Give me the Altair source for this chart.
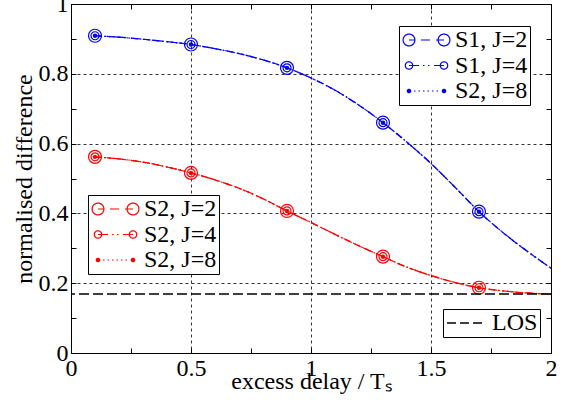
import math
import altair as alt
import pandas as pd

# ---------------- data ----------------
xs = [0.1, 0.2, 0.3, 0.4, 0.5, 0.6, 0.7, 0.8, 0.9, 1.0,
      1.1, 1.2, 1.3, 1.4, 1.5, 1.6, 1.7, 1.8, 1.9, 2.0]
s1_curve = [0.909, 0.905, 0.899, 0.892, 0.884, 0.872, 0.858, 0.840, 0.817, 0.788,
            0.753, 0.710, 0.660, 0.604, 0.543, 0.475, 0.405, 0.345, 0.292, 0.243]
s2_curve = [0.562, 0.556, 0.547, 0.533, 0.516, 0.496, 0.472, 0.442, 0.407, 0.374,
            0.340, 0.307, 0.276, 0.246, 0.222, 0.202, 0.187, 0.178, 0.172, 0.169]
marker_x = [0.1, 0.5, 0.9, 1.3, 1.7]
s1_markers = [0.909, 0.884, 0.817, 0.660, 0.405]
s2_markers = [0.562, 0.516, 0.407, 0.276, 0.187]
los_value = [0.169]
J_values = ["2", "4", "8"]
blue_labels = ["S1, J=2", "S1, J=4", "S2, J=8"]
red_labels = ["S2, J=2", "S2, J=4", "S2, J=8"]
los_labels = ["LOS"]
x_major = [0, 0.5, 1, 1.5, 2]
x_minor = [0, 0.25, 0.5, 0.75, 1, 1.25, 1.5, 1.75, 2]
y_major = [0, 0.2, 0.4, 0.6, 0.8, 1]
y_minor = [0, 0.1, 0.2, 0.3, 0.4, 0.5, 0.6, 0.7, 0.8, 0.9, 1]

BLUE = "#0000ff"
RED = "#ff0000"
FONT = "Liberation Serif"

rows = []
for series, curve in (("S1", s1_curve), ("S2", s2_curve)):
    for j in J_values:
        for x, y in zip(xs, curve):
            rows.append({"series": series, "J": j, "x": x, "y": y})
line_df = pd.DataFrame(rows)

mrows = []
for series, vals in (("S1", s1_markers), ("S2", s2_markers)):
    for x, y in zip(marker_x, vals):
        mrows.append({"series": series, "x": x, "y": y})
marker_df = pd.DataFrame(mrows)
los_df = pd.DataFrame({"y": los_value})

# ---------------- legend symbol paths (style only) ----------------
S = 8.0  # px per path unit for symbolSize 256


def _poly(pts):
    return "M" + " L".join(f"{x / S:.3f},{y / S:.3f}" for x, y in pts) + " Z"


def disc(cx, r, n=28):
    return _poly([(cx + r * math.cos(2 * math.pi * k / n), r * math.sin(2 * math.pi * k / n)) for k in range(n)])


def ring(cx, r, w=1.2, n=36):
    outer = [(cx + r * math.cos(2 * math.pi * k / n), r * math.sin(2 * math.pi * k / n)) for k in range(n)]
    ri = r - w
    inner = [(cx + ri * math.cos(-2 * math.pi * k / n), ri * math.sin(-2 * math.pi * k / n)) for k in range(n)]
    return _poly(outer) + " " + _poly(inner)


def seg(x0, x1, h=0.6):
    return _poly([(x0, -h), (x1, -h), (x1, h), (x0, h)])


C1, C2 = -4.0, 31.0
sym_j2 = " ".join([ring(C1, 6.5), ring(C2, 6.5), seg(C1, C1 + 6.5), seg(C1 + 12, C1 + 21), seg(C1 + 27, C2)])
sym_j4 = " ".join([ring(C1, 4.3), ring(C2, 4.3), seg(C1, C1 + 10), seg(C1 + 14, C1 + 15.5),
                   seg(C1 + 19, C1 + 20.5), seg(C1 + 25, C2)])
sym_j8 = " ".join([disc(C1, 2.3), disc(C2, 2.3)] + [seg(C1 + d, C1 + d + 1.5) for d in (5, 9.5, 14, 18.5, 23, 27.5)])
sym_los = " ".join([seg(-10, -1, 0.7), seg(3, 12, 0.7), seg(16, 25, 0.7)])
sym_paths = [sym_j2, sym_j4, sym_j8]

# ---------------- scales & axes ----------------
xscale = alt.Scale(domain=[0, 2], nice=False, zero=False)
yscale = alt.Scale(domain=[0, 1], nice=False, zero=False)
color_scale = alt.Scale(domain=["S1", "S2"], range=[BLUE, RED])

x_main = alt.Axis(orient="bottom", values=x_major, format="~g", tickSize=0, labelPadding=3,
                  labelFlush=False, labelOverlap=False, grid=True, gridDash=[3, 3], gridColor="black",
                  gridWidth=0.8, gridOpacity=1, domain=False, title="excess delay / Tₛ",
                  titleBaseline="alphabetic", titleY=35)
y_main = alt.Axis(orient="left", values=y_major, format="~g", tickSize=0, labelPadding=3,
                  labelFlush=False, labelOverlap=False, grid=True, gridDash=[3, 3], gridColor="black",
                  gridWidth=0.8, gridOpacity=1, domain=False, title="normalised difference",
                  titleBaseline="alphabetic", titleX=-40)


def tick_axis(orient, values):
    return alt.Axis(orient=orient, offset=-5, values=values, labels=False, grid=False, domain=False,
                    ticks=True, tickSize=5, tickColor="black", tickWidth=1, title=None)


# ---------------- layers ----------------
lines = alt.Chart(line_df).mark_line(strokeWidth=1.2, interpolate="monotone").encode(
    x=alt.X("x:Q", scale=xscale, axis=x_main),
    y=alt.Y("y:Q", scale=yscale, axis=y_main),
    color=alt.Color("series:N", scale=color_scale, legend=None),
    strokeDash=alt.StrokeDash("J:N", scale=alt.Scale(domain=J_values,
                              range=[[7, 5], [7, 3, 1.5, 3, 1.5, 3], [1.5, 3]]), legend=None),
)

m_j2 = alt.Chart(marker_df).mark_point(shape="circle", filled=False, size=169, strokeWidth=1.2, opacity=1).encode(
    x=alt.X("x:Q", scale=xscale, axis=tick_axis("bottom", x_minor)),
    y=alt.Y("y:Q", scale=yscale, axis=tick_axis("left", y_minor)),
    color=alt.Color("series:N", scale=color_scale, legend=None),
)
m_j4 = alt.Chart(marker_df).mark_point(shape="circle", filled=False, size=64, strokeWidth=1.2, opacity=1).encode(
    x=alt.X("x:Q", scale=xscale, axis=tick_axis("top", x_minor)),
    y=alt.Y("y:Q", scale=yscale, axis=tick_axis("right", y_minor)),
    color=alt.Color("series:N", scale=color_scale, legend=None),
)
m_j8 = alt.Chart(marker_df).mark_point(shape="circle", filled=True, size=20, opacity=1).encode(
    x=alt.X("x:Q", scale=xscale, axis=None),
    y=alt.Y("y:Q", scale=yscale, axis=None),
    color=alt.Color("series:N", scale=color_scale, legend=None),
)
los = alt.Chart(los_df).mark_rule(strokeDash=[10, 4], strokeWidth=1.3, color="black").encode(
    y=alt.Y("y:Q", scale=yscale, axis=None),
)


def legend_layer(labels, paths, color, lx, ly, label_offset):
    df = pd.DataFrame({"label": labels})
    return alt.Chart(df).mark_point(filled=True, opacity=0, color=color).encode(
        shape=alt.Shape("label:N", scale=alt.Scale(domain=labels, range=paths),
                        legend=alt.Legend(title=None, orient="none", legendX=lx, legendY=ly,
                                          padding=2, rowPadding=1.5, labelOffset=label_offset,
                                          symbolSize=256, symbolFillColor=color, symbolStrokeWidth=0,
                                          symbolOpacity=1, labelFontSize=24, labelFont=FONT,
                                          labelColor="black", labelLimit=0, strokeColor="black",
                                          fillColor="white", cornerRadius=0))
    )


leg_blue = legend_layer(blue_labels, sym_paths, BLUE, 328, 22, 30)
leg_red = legend_layer(red_labels, sym_paths, RED, 17, 191, 30)
leg_los = legend_layer(los_labels, [sym_los], "black", 372, 305, 23)

chart = alt.layer(lines, m_j2, m_j4, m_j8, los, leg_blue, leg_red, leg_los).properties(
    width=480, height=349,
    padding={"left": 71, "top": 4, "right": 22, "bottom": 61},
    autosize=alt.AutoSizeParams(type="none"),
).resolve_axis(x="independent", y="independent").resolve_scale(shape="independent").configure(
    font=FONT, background="white"
).configure_view(stroke="black", strokeWidth=1).configure_axis(
    labelFont=FONT, labelFontSize=24, labelColor="black", titleFont=FONT, titleFontSize=24,
    titleColor="black", titleFontWeight="normal"
).configure_legend(labelFont=FONT, labelFontSize=24, labelColor="black")

chart.save("out.html", embed_options={"renderer": "svg", "actions": False})
